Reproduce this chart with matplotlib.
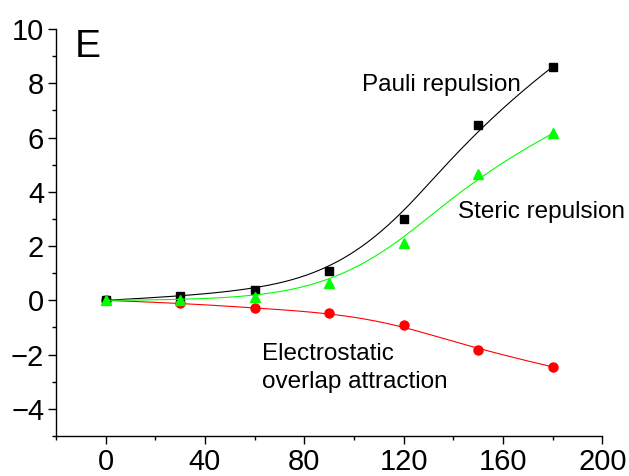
import numpy as np
import matplotlib.pyplot as plt
from matplotlib.ticker import MultipleLocator

plt.rcParams['font.family'] = ['Liberation Sans', 'DejaVu Sans']

angle = [0, 30, 60, 90, 120, 150, 180]
pauli = [0.0, 0.15, 0.37, 1.07, 3.01, 6.47, 8.61]
steric = [0.0, 0.02, 0.11, 0.64, 2.13, 4.66, 6.15]
electro = [0.0, -0.10, -0.28, -0.46, -0.90, -1.82, -2.45]


def bspline(xs, ys, n=300):
    # clamped cubic B-spline using the data points as control points
    P = np.column_stack([xs, ys]).astype(float)
    k = 3
    m = len(P)
    inner = np.arange(1, m - k)
    t = np.concatenate([np.zeros(k + 1), inner, np.full(k + 1, m - k)]).astype(float)
    us = np.linspace(0, m - k, n)
    out = []
    for u in us:
        s = k
        while s < m - 1 and u >= t[s + 1]:
            s += 1
        d = [P[j].copy() for j in range(s - k, s + 1)]
        for r in range(1, k + 1):
            for j in range(k, r - 1, -1):
                i = j + s - k
                den = t[i + k + 1 - r] - t[i]
                a = 0.0 if den == 0 else (u - t[i]) / den
                d[j] = (1 - a) * d[j - 1] + a * d[j]
        out.append(d[k])
    out = np.array(out)
    return out[:, 0], out[:, 1]


fig = plt.figure(figsize=(6.29, 4.76), dpi=100)
ax = fig.add_axes([0.089, 0.084, 0.8686, 0.855])

for ys, col, mk, ms in [(electro, '#ff0000', 'o', 6.5),
                        (pauli, 'black', 's', 6),
                        (steric, '#00ff00', '^', 7)]:
    cx, cy = bspline(angle, ys)
    ax.plot(cx, cy, color=col, lw=0.8)
    ax.plot(angle, ys, ls='none', marker=mk, ms=ms, color=col)

ax.set_xlim(-20, 200)
ax.set_ylim(-5, 10)
ax.xaxis.set_minor_locator(MultipleLocator(20))
ax.yaxis.set_minor_locator(MultipleLocator(1))
ax.set_xticks([0, 40, 80, 120, 160, 200])
ax.set_yticks([-4, -2, 0, 2, 4, 6, 8, 10])

for s in ['top', 'right']:
    ax.spines[s].set_visible(False)
for s in ['left', 'bottom']:
    ax.spines[s].set_linewidth(1.0)

ax.tick_params(which='major', direction='out', length=5.5, width=1.0,
               labelsize=21, pad=3)
ax.tick_params(which='minor', direction='out', length=3, width=1.0)

ax.text(-12.4, 8.98, 'E', fontsize=28, va='baseline')
ax.text(103.2, 7.73, 'Pauli repulsion', fontsize=17.5, va='baseline')
ax.text(141.9, 3.04, 'Steric repulsion', fontsize=17.5, va='baseline')
ax.text(62.8, -2.21, 'Electrostatic', fontsize=17.5, va='baseline')
ax.text(62.8, -3.22, 'overlap attraction', fontsize=17.5, va='baseline')

plt.savefig('out.png')
plt.close(fig)
